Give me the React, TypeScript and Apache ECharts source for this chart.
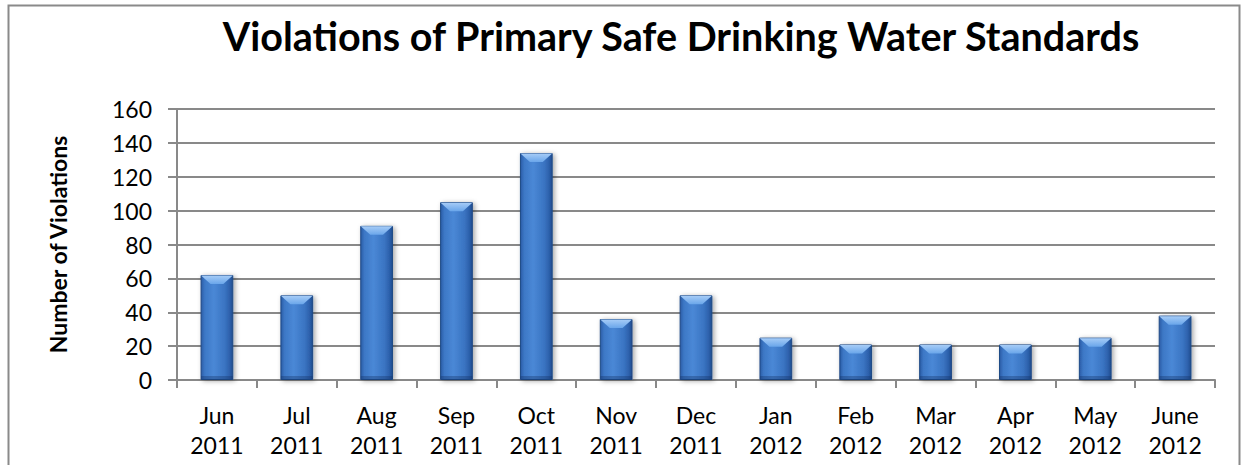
import React, { useEffect, useRef } from "react";
import * as echarts from "echarts";

const titleText = "Violations of Primary Safe Drinking Water Standards";
const yAxisName = "Number of Violations";
const months = ["Jun", "Jul", "Aug", "Sep", "Oct", "Nov", "Dec", "Jan", "Feb", "Mar", "Apr", "May", "June"];
const years = ["2011", "2011", "2011", "2011", "2011", "2011", "2011", "2012", "2012", "2012", "2012", "2012", "2012"];
const violations = [62, 50, 91, 105, 134, 36, 50, 25, 21, 21, 21, 25, 38];
const yTicks = { min: 0, max: 160, interval: 20 };

const categories = months.map((m, i) => `${m}\n${years[i]}`);
const BAR_FRACTION = 0.41;

export default function App() {
  const ref = useRef<HTMLDivElement>(null);
  useEffect(() => {
    document.body.style.margin = "0";
    if (!ref.current) return;
    const chart = echarts.init(ref.current, null, { renderer: "svg" });
    const font = "Lato, 'Open Sans', sans-serif";
    const gray = "#898989";
    chart.setOption({
      animation: false,
      backgroundColor: "#ffffff",
      title: {
        text: titleText,
        left: 676,
        top: 10,
        textAlign: "center",
        textStyle: { fontFamily: font, fontWeight: "bold", fontSize: 39.5, color: "#000" },
      },
      graphic: [
        {
          type: "rect",
          shape: { x: 8.5, y: 5.5, width: 1231, height: 470 },
          style: { fill: "none", stroke: "#8a8a8a", lineWidth: 2 },
          silent: true,
        },
      ],
      grid: { left: 177, right: 28, top: 109, bottom: 85, containLabel: false },
      xAxis: {
        type: "category",
        data: categories,
        boundaryGap: true,
        axisLine: { show: true, lineStyle: { color: gray, width: 2 } },
        axisTick: { show: true, length: 8, alignWithLabel: false, lineStyle: { color: gray, width: 2 } },
        axisLabel: {
          fontFamily: font,
          fontSize: 23,
          color: "#000",
          lineHeight: 30,
          margin: 20,
          interval: 0,
        },
        splitLine: { show: false },
      },
      yAxis: {
        type: "value",
        min: yTicks.min,
        max: yTicks.max,
        interval: yTicks.interval,
        name: yAxisName,
        nameLocation: "middle",
        nameRotate: 90,
        nameGap: 108,
        nameTextStyle: { fontFamily: font, fontWeight: "bold", fontSize: 23, color: "#000" },
        axisLine: { show: true, lineStyle: { color: gray, width: 2 } },
        axisTick: { show: true, length: 9, lineStyle: { color: gray, width: 2 } },
        axisLabel: { fontFamily: font, fontSize: 23, color: "#000", margin: 25 },
        splitLine: { show: true, lineStyle: { color: gray, width: 2 } },
      },
      series: [
        {
          type: "bar",
          data: violations,
          barWidth: `${BAR_FRACTION * 100}%`,
          itemStyle: {
            color: {
              type: "linear",
              x: 0, y: 0, x2: 1, y2: 0,
              colorStops: [
                { offset: 0, color: "#2a5ca6" },
                { offset: 0.12, color: "#3d78c6" },
                { offset: 0.4, color: "#4a88d6" },
                { offset: 0.75, color: "#3a74c2" },
                { offset: 0.9, color: "#2d61ac" },
                { offset: 1, color: "#1f4c8e" },
              ],
            },
            borderColor: "#1f4a86",
            borderWidth: 1,
            shadowColor: "rgba(0,0,0,0.35)",
            shadowBlur: 5,
            shadowOffsetX: 2,
            shadowOffsetY: 1,
          },
          z: 2,
        },
        {
          type: "custom",
          data: violations.map((v, i) => [i, v]),
          z: 3,
          silent: true,
          renderItem: (params: any, api: any) => {
            const top = api.coord([api.value(0), api.value(1)]);
            const base = api.coord([api.value(0), 0]);
            const cw = api.size([1, 0])[0];
            const w = cw * BAR_FRACTION;
            const x0 = top[0] - w / 2;
            const x1 = top[0] + w / 2;
            const b = Math.min(9, (base[1] - top[1]) / 2);
            return {
              type: "group",
              children: [
                {
                  type: "polygon",
                  shape: {
                    points: [
                      [x0 + 0.5, top[1] + 0.5],
                      [x1 - 0.5, top[1] + 0.5],
                      [x1 - b - 1, top[1] + b],
                      [x0 + b + 1, top[1] + b],
                    ],
                  },
                  style: {
                    fill: {
                      type: "linear",
                      x: 0, y: 0, x2: 0, y2: 1,
                      colorStops: [
                        { offset: 0, color: "#a6ccf7" },
                        { offset: 1, color: "#6aa6ea" },
                      ],
                    },
                  },
                },
                {
                  type: "rect",
                  shape: { x: x0 + 0.5, y: base[1] - 4, width: w - 1, height: 3.5 },
                  style: { fill: "rgba(20,50,100,0.35)" },
                },
              ],
            };
          },
        },
      ],
    });
    return () => chart.dispose();
  }, []);
  return <div ref={ref} style={{ width: 1243, height: 465 }} />;
}
